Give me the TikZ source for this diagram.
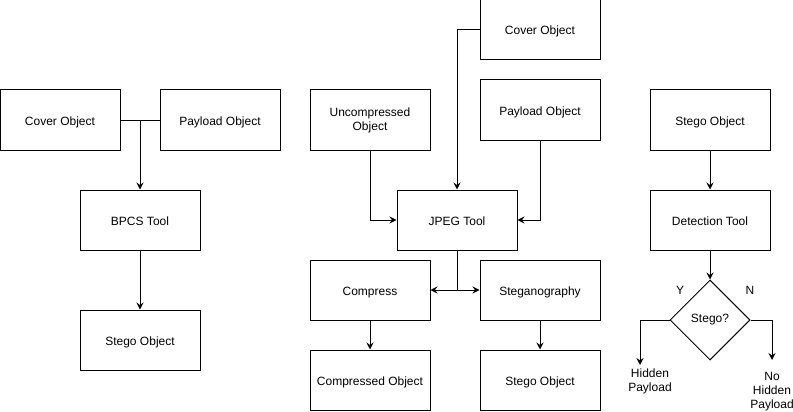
\documentclass[tikz,border=0pt]{standalone}
\usepackage{fontspec}
\setmainfont{Liberation Sans}
\usetikzlibrary{arrows.meta,shapes.geometric}
\begin{document}
\begin{tikzpicture}[x=1pt,y=-1pt,
 txt/.style={font=\fontsize{12pt}{14pt}\selectfont},
 boxbase/.style={txt,draw,line width=1pt,minimum width=120pt,minimum height=60pt,inner sep=0pt,align=center},
 box/.style={boxbase,text height=10pt,text depth=0pt},
 box2/.style={boxbase},
 decision/.style={txt,draw,diamond,line width=1pt,minimum width=80pt,minimum height=80pt,inner sep=0pt},
 lbl/.style={txt,align=center,inner sep=0pt},
 conn/.style={line width=1pt},
 arr/.style={conn,-{Stealth[length=7pt,width=7pt,inset=2.5pt]}}]
\useasboundingbox (0,0) rectangle (793,412);
% left
\node[box] (cov1) at (60,120) {Cover Object};
\node[box] (pay1) at (220,120) {Payload Object};
\node[box] (bpcs) at (140,220) {BPCS Tool};
\node[box] (steg1) at (140,340) {Stego Object};
\coordinate (j1) at (140,120);
\draw[conn] (cov1.east) -- (pay1.west);
\draw[arr] (j1) -- (bpcs.north);
\draw[arr] (bpcs) -- (steg1);
% middle
\node[box] (cov2) at (540,30) {Cover Object};
\node[box2] (unc) at (370,120) {Uncompressed\\Object};
\node[box] (pay2) at (540,110) {Payload Object};
\node[box] (jpeg) at (457,220) {JPEG Tool};
\node[box] (comp) at (370,290) {Compress};
\node[box] (stg) at (540,290) {Steganography};
\node[box] (compo) at (370,380) {Compressed Object};
\node[box] (steg2) at (540,380) {Stego Object};
\draw[arr] (cov2.west) -| (jpeg.north);
\draw[arr] (unc.south) |- (jpeg.west);
\draw[arr] (pay2.south) |- (jpeg.east);
\coordinate (j2) at (457,290);
\draw[conn] (jpeg.south) -- (j2);
\draw[arr] (j2) -- (comp.east);
\draw[arr] (j2) -- (stg.west);
\draw[arr] (comp) -- (compo);
\draw[arr] (stg) -- (steg2);
% right
\node[box] (steg3) at (710,120) {Stego Object};
\node[box] (det) at (710,220) {Detection Tool};
\node[decision] (dec) at (710,320) {Stego?};
\draw[arr] (steg3) -- (det);
\draw[arr] (det) -- (dec);
\node[lbl] (hid) at (650,381) {Hidden\\Payload};
\node[lbl] (nohid) at (772,392) {No\\Hidden\\Payload};
\coordinate (hidtip) at (640,365);
\coordinate (nohidtip) at (772,360);
\draw[arr] (dec.west) -| (hidtip);
\draw[arr] (dec.east) -| (nohidtip);
\node[lbl] (ylab) at (680,290) {Y};
\node[lbl] (nlab) at (750,290) {N};
\end{tikzpicture}
\end{document}
